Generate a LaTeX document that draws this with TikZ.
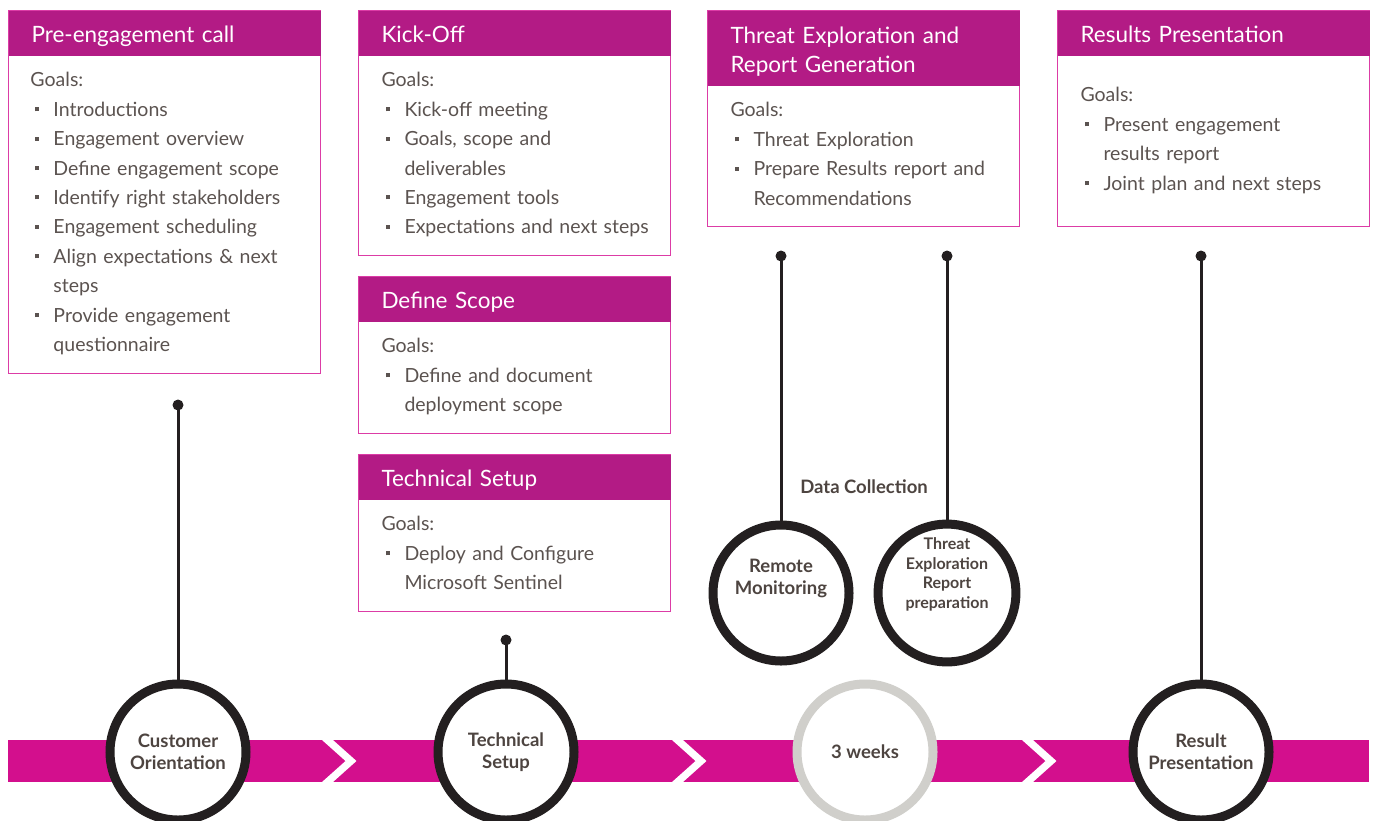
\documentclass[tikz,border=0pt]{standalone}
\usepackage{fontspec}
\setmainfont{Lato}
\definecolor{hdrpink}{HTML}{B31B85}
\definecolor{bandpink}{HTML}{D30F8D}
\definecolor{edgepink}{HTML}{DC3CA6}
\definecolor{txtgrey}{HTML}{5B5350}
\definecolor{circtxt}{HTML}{4D4440}
\definecolor{ringblack}{HTML}{231F20}
\definecolor{ringgrey}{HTML}{D0CFCB}

\tikzset{every picture/.style={line width=1pt}}
\tikzset{
  frame/.style={draw=edgepink, line width=1.2pt, anchor=north west, inner sep=0pt, minimum width=312pt},
  header/.style={fill=hdrpink, anchor=north west, text=white, text width=266pt, inner xsep=23pt,
    inner ysep=0pt, align=left, minimum height=45pt, text height=19pt, text depth=0pt,
    font=\fontsize{22.5}{29}\selectfont},
  goals/.style={anchor=north west, inner sep=0pt, text width=282pt, text=txtgrey,
    font=\fontsize{19.5}{29.4}\selectfont},
  ring/.style={circle, draw=ringblack, line width=9pt, fill=white, minimum size=136pt, inner sep=0pt,
    align=center, text=circtxt, font=\fontsize{18.5}{22}\selectfont\bfseries},
  pin/.style={draw=ringblack, line width=3pt},
}
\newcommand\goal[1]{\par\noindent\hangindent=23pt\hangafter=1\makebox[23pt][l]{\hspace{4pt}\rule[5pt]{4pt}{4pt}}#1\par}

\begin{document}
\begin{tikzpicture}[x=1pt,y=-1pt]
\useasboundingbox (0,0) rectangle (1373,820);

% phase boxes
\node[frame, minimum height=363pt] (b1) at (8,10) {};
\node[header] (h1) at (b1.north west) {Pre-engagement call};
\node[goals] (g1) at ([shift={(22,62)}]b1.north west) {Goals:
  \goal{Introductions}
  \goal{Engagement overview}
  \goal{Define engagement scope}
  \goal{Identify right stakeholders}
  \goal{Engagement scheduling}
  \goal{Align expectations \& next\newline steps}
  \goal{Provide engagement\newline questionnaire}};

\node[frame, minimum height=245pt] (b2) at (358,10) {};
\node[header] (h2) at (b2.north west) {Kick-Off};
\node[goals] (g2) at ([shift={(23,62)}]b2.north west) {Goals:
  \goal{Kick-off meeting}
  \goal{Goals, scope and\newline deliverables}
  \goal{Engagement tools}
  \goal{Expectations and next steps}};

\node[frame, minimum height=157pt] (b3) at (358,276) {};
\node[header] (h3) at (b3.north west) {Define Scope};
\node[goals] (g3) at ([shift={(23,62)}]b3.north west) {Goals:
  \goal{Define and document\newline deployment scope}};

\node[frame, minimum height=157pt] (b4) at (358,454) {};
\node[header] (h4) at (b4.north west) {Technical Setup};
\node[goals] (g4) at ([shift={(23,62)}]b4.north west) {Goals:
  \goal{Deploy and Configure\newline Microsoft Sentinel}};

\node[frame, minimum height=216pt] (b5) at (707,10) {};
\node[header, minimum height=75pt, text depth=29pt] (h5) at (b5.north west) {Threat Exploration and\\Report Generation};
\node[goals] (g5) at ([shift={(23,92)}]b5.north west) {Goals:
  \goal{Threat Exploration}
  \goal{Prepare Results report and\newline Recommendations}};

\node[frame, minimum height=216pt] (b6) at (1057,10) {};
\node[header] (h6) at (b6.north west) {Results Presentation};
\node[goals] (g6) at ([shift={(23,77)}]b6.north west) {Goals:
  \goal{Present engagement\newline results report}
  \goal{Joint plan and next steps}};

% timeline band
\fill[bandpink] (8,740) rectangle (1369,782);
\begin{scope}
\clip (8,740) rectangle (1369,782);
\foreach \cx in {327.5,677.5,1027.5}
  \draw[white, line width=7.3pt, miter limit=10] (\cx-5.6,735) -- (\cx+23.5,761) -- (\cx-5.6,787);
\end{scope}

% milestones
\node[ring] (co) at (178,752) {Customer\\Orientation};
\node[ring] (ts) at (506,752) {Technical\\Setup};
\node[ring, draw=ringgrey] (wk) at (865,752) {3 weeks};
\node[ring] (rp) at (1201,752) {Result\\Presentation};
\node[ring] (rm) at (781,593) {Remote\\Monitoring\\[10pt]\mbox{}};
\node[ring, font=\fontsize{16}{19.5}\selectfont\bfseries] (te) at (947,593) {Threat\\Exploration\\Report\\preparation\\[20.5pt]\mbox{}};
\node[text=circtxt, font=\fontsize{18.5}{20}\selectfont\bfseries] (dc) at (864,487) {Data Collection};

% pins
\coordinate (p1) at (178,405);
\coordinate (p2) at (506,640);
\coordinate (p3) at (781,256);
\coordinate (p4) at (947,256);
\coordinate (p5) at (1201,256);
\foreach \p/\r in {p1/co,p2/ts,p3/rm,p4/te,p5/rp} {
  \draw[pin] (\p) -- (\r);
  \fill[ringblack] (\p) circle (5.5);
}
\end{tikzpicture}
\end{document}
